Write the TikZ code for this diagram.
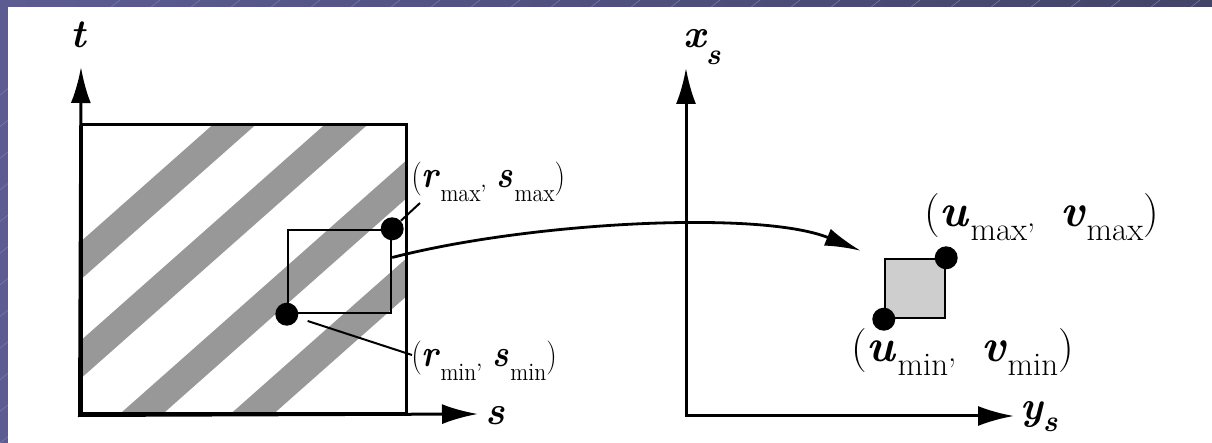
\documentclass[tikz,border=0pt]{standalone}
\usepackage{fontspec}
\usepackage{graphicx}
\usetikzlibrary{arrows.meta,calc}
\definecolor{slidehi}{RGB}{92,92,146}
\definecolor{slidelo}{RGB}{66,68,104}
\definecolor{slideline}{RGB}{118,120,170}
\definecolor{bandgray}{RGB}{152,152,152}
\definecolor{cellgray}{RGB}{206,206,206}
% point label: letters big and bold, subscripts set low
\newcommand{\ptlabel}[3]{\scalebox{\labelsx}[1]{{\parfont(}{\letfont #1}\kern1pt\raisebox{-\subdrop}{#3},\hspace{\commagap}{\letfont #2}\kern1pt\raisebox{-\subdrop}{#3}{\parfont)}}}
\newcommand{\axsub}[2]{\raisebox{-#1}{\fontsize{15}{16}\selectfont #2}}

\begin{document}
\begin{tikzpicture}[x=0.5pt, y=-0.5pt,
  axes/.style={line width=1.5pt, {Latex[length=18pt,width=10pt]}-{Latex[length=18pt,width=10pt]}},
  ptdot/.style={circle, fill=black, inner sep=0pt, minimum size=11.5pt},
  leader/.style={line width=1pt},
  frame/.style={draw, inner sep=0pt},
  axislabel/.style={inner sep=0pt, font=\fontsize{20}{22}\selectfont\bfseries\itshape},
  smalllabel/.style={inner sep=0pt, anchor=base west, font=\fontsize{12.5}{14}\selectfont
    \def\parfont{\fontsize{17}{19}\selectfont}\def\letfont{\fontsize{19}{21}\selectfont\bfseries\itshape}\def\subdrop{7pt}\def\labelsx{0.88}\def\commagap{.45em}},
  biglabel/.style={inner sep=0pt, anchor=base west, font=\fontsize{16.5}{18}\selectfont
    \def\parfont{\fontsize{22}{24}\selectfont}\def\letfont{\fontsize{23}{25}\selectfont\bfseries\itshape}\def\subdrop{7pt}\def\labelsx{1}\def\commagap{.75em}}]
  % slide background
  \useasboundingbox (0,0) rectangle (1212,443);
  \shade[left color=slidehi, right color=slidelo] (0,0) rectangle (1212,443);
  \foreach \x in {-440,-400,...,1200} \draw[slideline, line width=0.3pt] (\x,443) -- ++(560,-443);
  \fill[white] (8,7) rectangle (1212,443);
  % texture space with stripes
  \begin{scope}
    \clip (81,125) rectangle (406,414);
    \foreach \c in {313,412,520,618}
      \fill[bandgray] (60,\c-0.885*60) -- (430,\c-0.885*430) -- (430,\c+38-0.885*430) -- (60,\c+38-0.885*60) -- cycle;
  \end{scope}
  \node[frame, line width=1.5pt, minimum width=162.5pt, minimum height=144.5pt] (tex) at (243.5,269.5) {};
  \coordinate (ttip) at (81,67); \coordinate (stip) at (478,414);
  \draw[axes] (ttip) -- (tex.south west) -- (stip);
  \node[axislabel, anchor=base] (tlab) at (78,48) {t};
  \node[axislabel, anchor=base west] (slab) at (485,425) {s};
  % footprint in texture space
  \node[frame, line width=1.2pt, minimum width=51.5pt, minimum height=41.5pt] (win) at (339.5,271.5) {};
  \node[ptdot] (dmax) at (win.north east) {}; \node[ptdot] (dmin) at (win.south west) {};
  \node[smalllabel] (rmax) at (411,188) {\ptlabel{r}{s}{max}};
  \node[smalllabel] (rmin) at (411,367) {\ptlabel{r}{s}{min}};
  \draw[leader] (dmax) -- ($(rmax.base west)+(9,15)$);
  \draw[leader, shorten <=5pt] (dmin) -- ($(rmin.base west)+(1,-12)$);
  % screen space
  \coordinate (org) at (686,416); \coordinate (xtip) at (686,68); \coordinate (ytip) at (1014,416);
  \draw[axes] (xtip) -- (org) -- (ytip);
  \node[axislabel, anchor=base west] (xlab) at (683,48) {x\axsub{8.5pt}{s}};
  \node[axislabel, anchor=base west] (ylab) at (1020,420) {y\axsub{6pt}{s}};
  \node[frame, line width=1.2pt, fill=cellgray, minimum width=30pt, minimum height=29.5pt] (cell) at (915,288.5) {};
  \node[ptdot] (umaxdot) at (cell.north east) {}; \node[ptdot] (umindot) at (cell.south west) {};
  \node[biglabel] (umax) at (924,227) {\ptlabel{u}{v}{max}};
  \node[biglabel] (umin) at (851,362) {\ptlabel{u}{v}{min}};
  % mapping arrow
  \draw[line width=1.4pt, -{Latex[length=18pt,width=9pt]}] ([yshift=7pt]win.east) .. controls (530,222) and (760,210) .. ([xshift=-11.5pt,yshift=3.5pt]cell.north west);
\end{tikzpicture}
\end{document}
